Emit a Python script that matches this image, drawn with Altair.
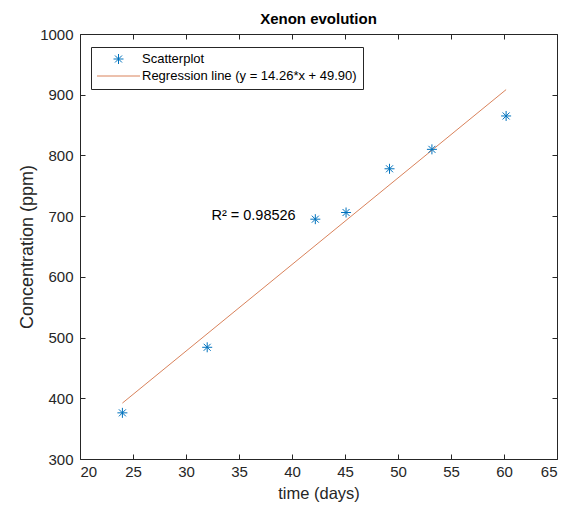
import altair as alt
import pandas as pd

# ---- data ----
days = [24.0, 32.0, 42.2, 45.1, 49.2, 53.2, 60.2]
conc = [376, 484, 695, 706, 778, 810, 865]
reg_days = [24.0, 60.2]
reg_conc = [392.1, 908.4]
series_names = ["Scatterplot", "Regression line (y = 14.26*x + 49.90)"]
series_colors = ["#0072BD", "#D9825B"]
x_ticks = [20, 25, 30, 35, 40, 45, 50, 55, 60, 65]
y_ticks = [300, 400, 500, 600, 700, 800, 900, 1000]
r2_text = ["R² = 0.98526"]
r2_x = [32.4]
r2_y = [700]

W, H = 477, 425
FONT = "Liberation Sans"
INK = "#262626"

pts = pd.DataFrame({"x": days, "y": conc, "series": series_names[0]})
reg = pd.DataFrame({"x": reg_days, "y": reg_conc, "series": series_names[1]})
lab = pd.DataFrame({"x": r2_x, "y": r2_y, "t": r2_text})

asterisk = "M-1,0H1M0,-1V1M-0.7,-0.7L0.7,0.7M-0.7,0.7L0.7,-0.7"
dash = "M-4.3,0H4.3"

xs = alt.Scale(domain=[20, 65], nice=False, zero=False)
ys = alt.Scale(domain=[300, 1000], nice=False, zero=False)

legend = alt.Legend(title=None, orient="none", legendX=11, legendY=13,
                    padding=5.5, rowPadding=3, symbolOffset=15.5, labelOffset=17,
                    strokeColor=INK, fillColor="white", labelFontSize=13,
                    labelColor="#000000", labelFont=FONT, symbolSize=100,
                    symbolStrokeWidth=1, cornerRadius=0, labelLimit=400)
color = alt.Color("series:N", scale=alt.Scale(domain=series_names, range=series_colors), legend=legend)
shape = alt.Shape("series:N", scale=alt.Scale(domain=series_names, range=[asterisk, dash]), legend=legend)

def inner_axis(orient, offset, vals):
    return alt.Axis(orient=orient, offset=offset, values=vals, labels=False, domain=False,
                    ticks=True, tickSize=5, tickColor=INK, title=None, grid=False)

points = alt.Chart(pts).mark_point(filled=False, size=100, strokeWidth=1, opacity=1).encode(
    x=alt.X("x:Q", scale=xs, axis=alt.Axis(values=x_ticks, ticks=False, domain=False, grid=False,
                                          labelPadding=5, title="time (days)", titlePadding=6)),
    y=alt.Y("y:Q", scale=ys, axis=alt.Axis(values=y_ticks, ticks=False, domain=False, grid=False, format="d",
                                          labelPadding=7, title="Concentration (ppm)", titlePadding=3,
                                          titleFontSize=18)),
    color=color,
    shape=shape,
)

line = alt.Chart(reg).mark_line(strokeWidth=1).encode(
    x=alt.X("x:Q", scale=xs, axis=inner_axis("top", -H, x_ticks)),
    y=alt.Y("y:Q", scale=ys, axis=inner_axis("right", -W, y_ticks)),
    color=color,
)

text = alt.Chart(lab).mark_text(align="left", baseline="middle", fontSize=14.5, font=FONT, color="#000000").encode(
    x=alt.X("x:Q", scale=xs, axis=inner_axis("bottom", -H, x_ticks)),
    y=alt.Y("y:Q", scale=ys, axis=inner_axis("left", -W, y_ticks)),
    text="t:N",
)

chart = alt.layer(line, points, text).resolve_axis(x="independent", y="independent").properties(
    width=W, height=H,
    title=alt.TitleParams("Xenon evolution", fontSize=15, fontWeight="bold", font=FONT,
                          color="#000000", anchor="middle", offset=10, dy=10, frame="group"),
    autosize=alt.AutoSizeParams(type="none"),
    padding={"left": 72, "top": 26, "right": 6, "bottom": 46},
).configure_view(stroke=INK, strokeWidth=1).configure_axis(
    labelFont=FONT, titleFont=FONT, labelFontSize=15, titleFontSize=16.5,
    titleFontWeight="normal", labelColor=INK, titleColor=INK,
)

chart.save("out.html", embed_options={"renderer": "svg", "actions": False})
